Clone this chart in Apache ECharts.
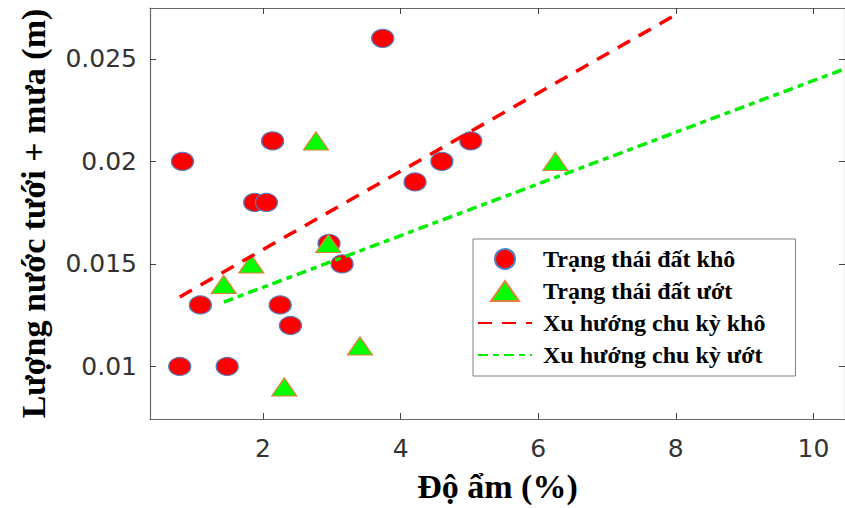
<!DOCTYPE html>
<html>
<head>
<meta charset="utf-8">
<script src="https://cdn.jsdelivr.net/npm/echarts@6/dist/echarts.min.js"></script>
<style>
  html, body { margin: 0; padding: 0; background: #ffffff; }
  #chart { width: 845px; height: 508px; }
</style>
</head>
<body>
<div id="chart"></div>
<script>
// ---- Data ----
var dryX = [0.79, 0.83, 1.09, 1.48, 1.88, 2.05, 2.14, 2.25, 2.40, 2.96, 3.15, 3.74, 4.21, 4.60, 5.02];
var dryY = [0.010, 0.020, 0.013, 0.010, 0.018, 0.018, 0.021, 0.013, 0.012, 0.016, 0.015, 0.026, 0.019, 0.020, 0.021];

var wetX = [1.43, 1.83, 2.31, 2.77, 2.95, 3.41, 6.25];
var wetY = [0.014, 0.015, 0.009, 0.021, 0.016, 0.011, 0.020];

// trend lines (end points)
var dryTrendX = [0.79, 8.02];
var dryTrendY = [0.01339, 0.02719];
var wetTrendX = [1.43, 10.46];
var wetTrendY = [0.01314, 0.02452];

var xTickValues = [2, 4, 6, 8, 10];
var xTickLabels = ['2', '4', '6', '8', '10'];
var yTickValues = [0.01, 0.015, 0.02, 0.025];
var yTickLabels = ['0.01', '0.015', '0.02', '0.025'];

var seriesNames = ['Trạng thái đất khô', 'Trạng thái đất ướt', 'Xu hướng chu kỳ khô', 'Xu hướng chu kỳ ướt'];
var xTitle = 'Độ ẩm (%)';
var yTitle = 'Lượng nước tưới + mưa (m)';

function zip(a, b) { return a.map(function (v, i) { return [v, b[i]]; }); }

var xMin = 0.358, xMax = 10.459;
var yMin = 0.007436, yMax = 0.027481;

var tickFont = 'DejaVu Sans';
var serif = '"Liberation Serif", "Times New Roman", serif';
var boxColor = '#666666';

var chart = echarts.init(document.getElementById('chart'), null, { renderer: 'svg' });

function xLabelFmt(v) { var i = xTickValues.indexOf(v); return i >= 0 ? xTickLabels[i] : ''; }
function yLabelFmt(v) {
  for (var i = 0; i < yTickValues.length; i++) { if (Math.abs(yTickValues[i] - v) < 1e-9) return yTickLabels[i]; }
  return '';
}

var option = {
  animation: false,
  backgroundColor: '#ffffff',
  grid: { left: 150, top: 8, right: -2, bottom: 88, containLabel: false },
  legend: {
    orient: 'vertical',
    left: 473,
    top: 239,
    itemWidth: 54,
    itemHeight: 20,
    itemGap: 8,
    padding: [8, 30, 9, 4],
    symbolKeepAspect: true,
    backgroundColor: '#ffffff',
    borderColor: '#808080',
    borderWidth: 1,
    borderRadius: 0,
    data: [
      { name: seriesNames[0], icon: 'circle' },
      { name: seriesNames[1], icon: 'path://M12.5,0L25,18L0,18Z' },
      { name: seriesNames[2] },
      { name: seriesNames[3] }
    ],
    textStyle: { fontFamily: serif, fontWeight: 'bold', fontSize: 24, color: '#000000', padding: [0, 0, 0, 6] }
  },
  xAxis: [
    {
      type: 'value', position: 'bottom', min: xMin, max: xMax,
      name: xTitle, nameLocation: 'middle', nameGap: 50,
      nameTextStyle: { fontFamily: serif, fontWeight: 'bold', fontSize: 34, color: '#000000' },
      axisLine: { show: true, onZero: false, lineStyle: { color: boxColor, width: 1.2 } },
      axisTick: { show: true, inside: true, length: 6, customValues: xTickValues, lineStyle: { color: '#444444' } },
      axisLabel: { show: true, margin: 17, customValues: xTickValues, formatter: xLabelFmt,
                   fontFamily: tickFont, fontSize: 25, color: '#333333' },
      splitLine: { show: false }
    },
    {
      type: 'value', position: 'top', min: xMin, max: xMax,
      axisLine: { show: true, onZero: false, lineStyle: { color: boxColor, width: 1.2 } },
      axisTick: { show: true, inside: true, length: 6, customValues: xTickValues, lineStyle: { color: '#444444' } },
      axisLabel: { show: false },
      splitLine: { show: false }
    }
  ],
  yAxis: [
    {
      type: 'value', position: 'left', min: yMin, max: yMax,
      name: yTitle, nameLocation: 'middle', nameGap: 100, nameRotate: 90,
      nameTextStyle: { fontFamily: serif, fontWeight: 'bold', fontSize: 34, color: '#000000' },
      axisLine: { show: true, onZero: false, lineStyle: { color: boxColor, width: 1.2 } },
      axisTick: { show: true, inside: true, length: 6, customValues: yTickValues, lineStyle: { color: '#444444' } },
      axisLabel: { show: true, margin: 13, customValues: yTickValues, formatter: yLabelFmt,
                   fontFamily: tickFont, fontSize: 25, color: '#333333' },
      splitLine: { show: false }
    },
    {
      type: 'value', position: 'right', min: yMin, max: yMax,
      axisLine: { show: true, onZero: false, lineStyle: { color: boxColor, width: 1.2 } },
      axisTick: { show: true, inside: true, length: 6, customValues: yTickValues, lineStyle: { color: '#444444' } },
      axisLabel: { show: false },
      splitLine: { show: false }
    }
  ],
  series: [
    {
      name: seriesNames[0], type: 'scatter', xAxisIndex: 0, yAxisIndex: 0,
      symbol: 'circle', symbolSize: [22, 18],
      itemStyle: { color: '#ff0000', borderColor: '#4f7fc4', borderWidth: 1.2, opacity: 1 },
      data: zip(dryX, dryY), z: 2
    },
    {
      name: seriesNames[1], type: 'scatter', xAxisIndex: 0, yAxisIndex: 0,
      symbol: 'triangle', symbolSize: [25, 18],
      itemStyle: { color: '#00ff00', borderColor: '#e0803a', borderWidth: 1.2, opacity: 1 },
      data: zip(wetX, wetY), z: 3
    },
    {
      name: seriesNames[2], type: 'line', xAxisIndex: 0, yAxisIndex: 0,
      symbol: 'none', showSymbol: false,
      lineStyle: { color: '#ff0000', width: 3.5, type: [14, 10] },
      itemStyle: { color: 'rgba(0,0,0,0)', borderColor: 'rgba(0,0,0,0)' },
      data: zip(dryTrendX, dryTrendY), z: 4
    },
    {
      name: seriesNames[3], type: 'line', xAxisIndex: 0, yAxisIndex: 0,
      symbol: 'none', showSymbol: false,
      lineStyle: { color: '#00ee00', width: 3.5, type: [10, 5, 6, 5] },
      itemStyle: { color: 'rgba(0,0,0,0)', borderColor: 'rgba(0,0,0,0)' },
      data: zip(wetTrendX, wetTrendY), z: 4
    }
  ]
};
chart.setOption(option);
</script>
</body>
</html>
